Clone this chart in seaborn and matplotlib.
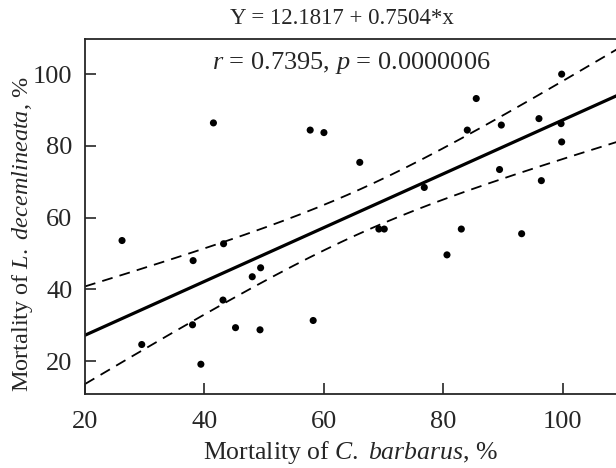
import numpy as np
import pandas as pd
import seaborn as sns
import matplotlib.pyplot as plt

# points
barbarus = [41.5, 57.7, 60.0, 99.8, 85.5, 96.0, 99.7, 89.7, 84.0, 99.8, 66.0,
            89.4, 96.4, 76.8, 69.2, 70.1, 83.0, 26.2, 43.2, 38.1, 49.4, 48.0,
            43.1, 38.0, 45.2, 49.3, 58.2, 29.5, 39.4, 93.1, 80.6]
decemlineata = [86.4, 84.4, 83.7, 100.0, 93.2, 87.6, 86.2, 85.8, 84.4, 81.1, 75.4,
                73.4, 70.3, 68.4, 56.8, 56.8, 56.8, 53.6, 52.7, 48.0, 46.0, 43.5,
                37.0, 30.1, 29.3, 28.7, 31.3, 24.6, 19.1, 55.5, 49.6]
intercept = 12.1817
slope = 0.7504
x_ticks = [20, 40, 60, 80, 100]
y_ticks = [20, 40, 60, 80, 100]

df = pd.DataFrame({"x": barbarus, "y": decemlineata})

sns.set_style("ticks")
plt.rcParams['font.family'] = ['Liberation Serif', 'DejaVu Serif']
plt.rcParams['mathtext.fontset'] = 'custom'
plt.rcParams['mathtext.rm'] = 'Liberation Serif'
plt.rcParams['mathtext.it'] = 'Liberation Serif:italic'

fig = plt.figure(figsize=(6.16, 4.68), dpi=100)
ax = fig.add_axes([85/616, 74/468, 1 - 85/616 + 0.001, (394 - 39)/468])

sns.scatterplot(data=df, x="x", y="y", ax=ax, color="black", s=26,
                edgecolor="none", zorder=3)

xs = np.linspace(20, 110, 200)
fit = intercept + slope * xs
n = len(df)
res = df["y"] - (intercept + slope * df["x"])
s = np.sqrt((res ** 2).sum() / (n - 2))
sxx = ((df["x"] - df["x"].mean()) ** 2).sum()
half = 1.96 * s * np.sqrt(1 / n + (xs - df["x"].mean()) ** 2 / sxx)

ax.plot(xs, fit, color="black", lw=2.3)
ax.plot(xs, fit + half, color="black", lw=1.3, dashes=(6, 4))
ax.plot(xs, fit - half, color="black", lw=1.3, dashes=(6, 4))

ax.set_xlim(20, 109)
ax.set_ylim(10.8, 109.8)
ax.set_xticks(x_ticks)
ax.set_yticks(y_ticks)
ax.tick_params(direction="in", length=8, width=1.2, labelsize=19)
ax.tick_params(axis="x", pad=12)
ax.tick_params(axis="y", pad=9)
for sp in ["left", "bottom", "top"]:
    ax.spines[sp].set_linewidth(1.3)
ax.spines["right"].set_visible(False)

ax.set_xlabel(r"Mortality of $\mathit{C.\ barbarus}$, %", fontsize=18.5)
ax.set_ylabel(r"Mortality of $\mathit{L.\ decemlineata}$, %", fontsize=17.5)
ax.xaxis.set_label_coords(0.5, -0.166)
ax.xaxis.label.set_verticalalignment("center")
ax.yaxis.set_label_coords(-0.118, 0.45)
ax.yaxis.label.set_verticalalignment("center")

ax.text(64.5, 103, r"$r$ = 0.7395, $p$ = 0.0000006", fontsize=19,
        ha="center", va="center")
fig.text(342/616, 1 - 18/468, "Y = 12.1817 + 0.7504*x", fontsize=16.5,
         ha="center", va="center")

fig.savefig("out.png", dpi=100)
